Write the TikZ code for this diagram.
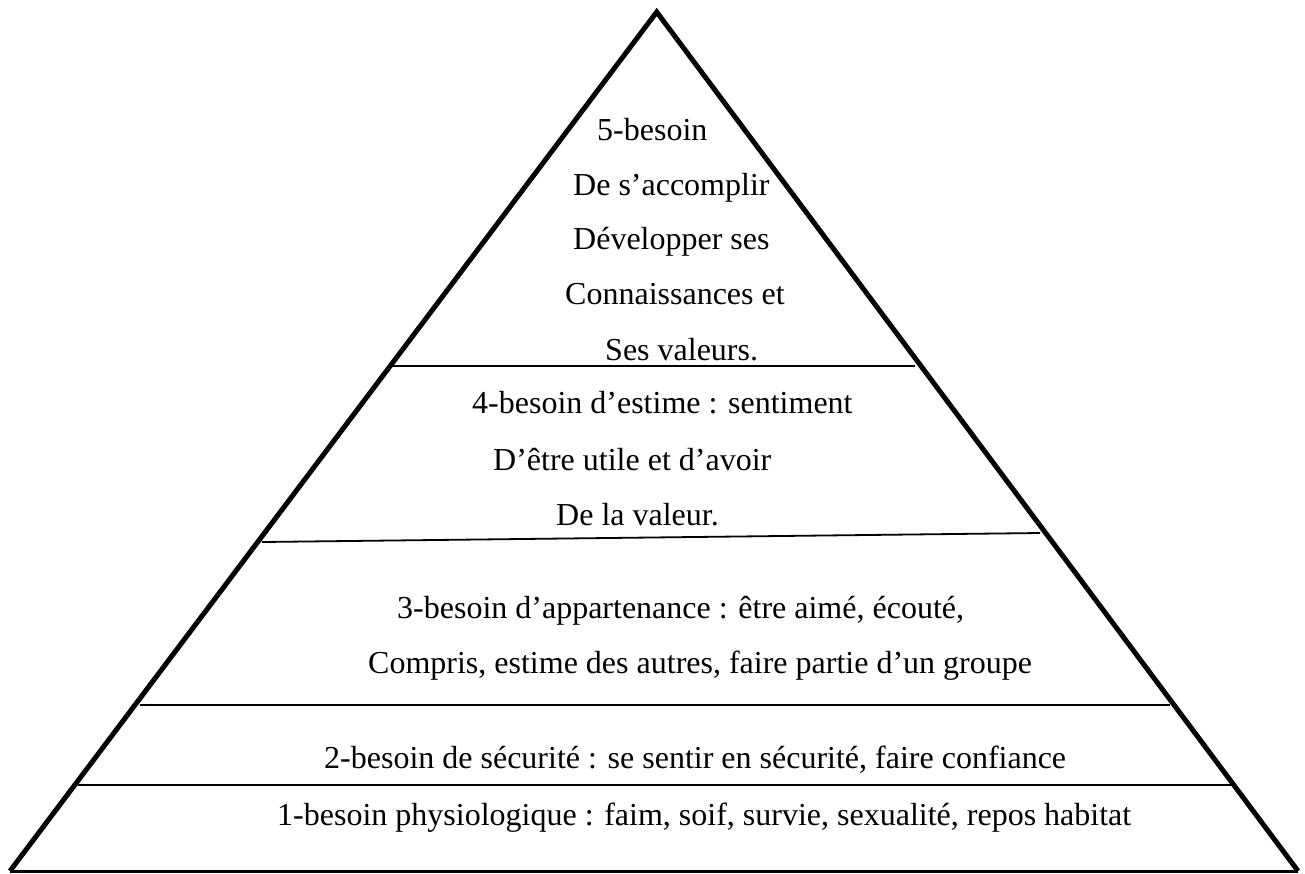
\documentclass[tikz,border=0pt]{standalone}
\usepackage{fontspec}
\setmainfont{Liberation Serif}
\begin{document}
\begin{tikzpicture}[x=1pt,y=-1pt,
  label/.style={anchor=base west,inner sep=0pt,font=\fontsize{32}{38}\selectfont},
  side/.style={line width=5pt,line join=miter,line cap=butt},
  base/.style={line width=3pt},
  tier/.style={line width=1.8pt}]
\useasboundingbox (0,0) rectangle (1305,873);

% outline of the pyramid
\coordinate (apex) at (656.7,12);
\coordinate (bl) at (10,871);
\coordinate (br) at (1298,871);
\draw[side] (bl) -- (apex) -- (br);
\draw[base] (bl) -- (br);

% separators between the levels
\coordinate (s1l) at (393,366);  \coordinate (s1r) at (915,366);
\coordinate (s2l) at (262,542);  \coordinate (s2r) at (1040,533);
\coordinate (s3l) at (140,705);  \coordinate (s3r) at (1170,705);
\coordinate (s4l) at (78,785);   \coordinate (s4r) at (1233,785);
\draw[tier] (s1l) -- (s1r);
\draw[tier] (s2l) -- (s2r);
\draw[tier] (s3l) -- (s3r);
\draw[tier] (s4l) -- (s4r);

% level 5
\node[label] (t5a) at (597,140) {5-besoin};
\node[label] (t5b) at (573,195) {De s’accomplir};
\node[label] (t5c) at (573,249) {Développer ses};
\node[label] (t5d) at (565,304) {Connaissances et};
\node[label] (t5e) at (605,360) {Ses valeurs.};

% level 4
\node[label] (t4a) at (472,413) {4-besoin d’estime : sentiment};
\node[label] (t4b) at (493,470) {D’être utile et d’avoir};
\node[label] (t4c) at (556,525) {De la valeur.};

% level 3
\node[label] (t3a) at (397,618) {3-besoin d’appartenance : être aimé, écouté,};
\node[label] (t3b) at (368,673) {Compris, estime des autres, faire partie d’un groupe};

% level 2
\node[label] (t2) at (324,768) {2-besoin de sécurité : se sentir en sécurité, faire confiance};

% level 1
\node[label] (t1) at (277,825) {1-besoin physiologique : faim, soif, survie, sexualité, repos habitat};
\end{tikzpicture}
\end{document}
